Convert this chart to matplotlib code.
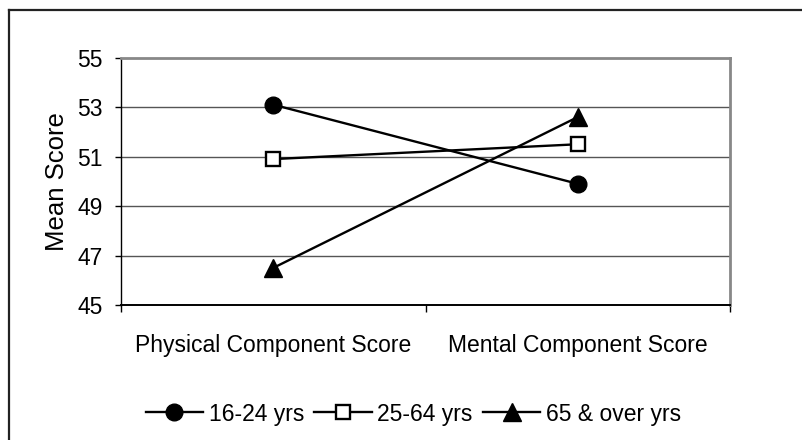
import matplotlib
matplotlib.use("Agg")
import matplotlib.pyplot as plt
from matplotlib.lines import Line2D

plt.rcParams['font.family'] = ['Liberation Sans', 'DejaVu Sans']

# Mean SF-36 summary scores by age group
components = ["Physical Component Score", "Mental Component Score"]
age_groups = ["16-24 yrs", "25-64 yrs", "65 & over yrs"]
scores_16_24 = [53.1, 49.9]
scores_25_64 = [50.9, 51.5]
scores_65_over = [46.5, 52.6]
y_ticks = [45, 47, 49, 51, 53, 55]

W, H = 803, 440
fig = plt.figure(figsize=(W / 100, H / 100), dpi=100)

# plot area in pixel terms
left, right, top, bottom = 121, 730, 57.7, 305
ax = fig.add_axes([left / W, 1 - bottom / H, (right - left) / W, (bottom - top) / H])

x = list(range(len(components)))
fs = 16.5
styles = [
    dict(marker='o', markersize=12, markerfacecolor='black'),
    dict(marker='s', markersize=10, markerfacecolor='white', markeredgewidth=1.7),
    dict(marker='^', markersize=13, markerfacecolor='black'),
]
series = [scores_16_24, scores_25_64, scores_65_over]
for vals, name, st in zip(series, age_groups, styles):
    ax.plot(x, vals, color='black', linewidth=1.7, markeredgecolor='black',
            label=name, zorder=3, **st)

ax.set_xlim(-0.5, 1.5)
ax.set_ylim(45, 55)
ax.set_yticks(y_ticks)
ax.set_yticklabels([str(t) for t in y_ticks], fontsize=fs)
ax.tick_params(axis='y', length=4, width=1, pad=9, color='black')

# category labels centred, tick marks at category boundaries
ax.set_xticks(x)
ax.set_xticklabels(components, fontsize=fs)
ax.tick_params(axis='x', which='major', length=0, pad=21)
ax.set_xticks([-0.5, 0.5, 1.5], minor=True)
ax.tick_params(axis='x', which='minor', length=5, width=1, color='black')

# horizontal gridlines
for t in y_ticks[1:-1]:
    ax.axhline(t, color='#555555', linewidth=1.0, zorder=1)

ax.spines['left'].set_color('black')
ax.spines['left'].set_linewidth(1.0)
ax.spines['bottom'].set_color('black')
ax.spines['bottom'].set_linewidth(1.4)
ax.spines['top'].set_color('#888888')
ax.spines['top'].set_linewidth(2.0)
ax.spines['right'].set_color('#888888')
ax.spines['right'].set_linewidth(2.0)

ax.set_ylabel("Mean Score", fontsize=18.5, va='center')
ax.yaxis.set_label_coords((57 - left) / (right - left), 0.5)

leg = fig.legend(loc='center', bbox_to_anchor=(413.5 / W, 1 - 414 / H),
                 ncol=3, frameon=False, fontsize=fs, handlelength=2.5,
                 handletextpad=0.25, columnspacing=0.45)

# outer chart border (top and left edges)
fig.add_artist(Line2D([9 / W, 1.0], [1 - 10 / H, 1 - 10 / H], color='#222222',
                      linewidth=1.6, transform=fig.transFigure))
fig.add_artist(Line2D([9 / W, 9 / W], [0.0, 1 - 10 / H], color='#222222',
                      linewidth=1.6, transform=fig.transFigure))

fig.savefig("out.png", dpi=100)
